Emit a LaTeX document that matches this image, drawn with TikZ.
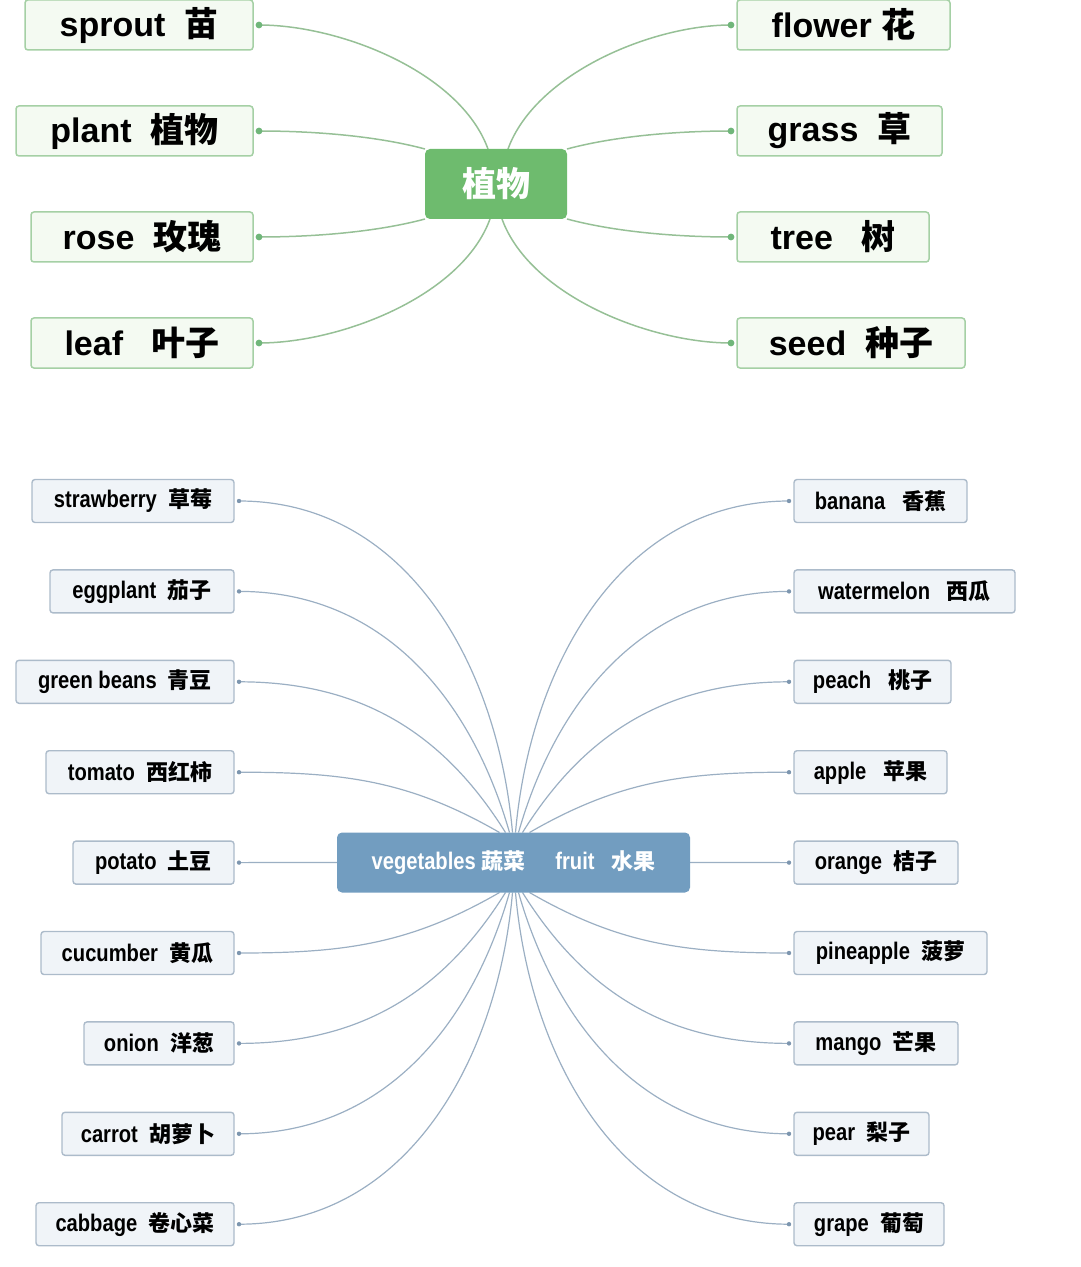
\documentclass[tikz,border=0pt]{standalone}
\usepackage{fontspec}
\usepackage{tikz}
\usetikzlibrary{positioning, calc, backgrounds}
\setmainfont{Liberation Sans}
\newfontfamily\zhfont{Noto Sans CJK SC}
\newfontfamily\narrowfont{Liberation Sans}[FakeStretch=0.84]
\newcommand{\zh}[1]{{\zhfont\bfseries #1}}
\newcommand{\zhs}[1]{{\zhfont\bfseries\fontsize{11}{14}\selectfont #1}}
\definecolor{gh}{RGB}{110,187,110}
\definecolor{gb}{RGB}{165,208,165}
\definecolor{gf}{RGB}{244,250,242}
\definecolor{gl}{RGB}{150,192,150}
\definecolor{gd}{RGB}{112,182,122}
\definecolor{bh}{RGB}{114,157,192}
\definecolor{bb}{RGB}{172,187,202}
\definecolor{bf}{RGB}{240,244,248}
\definecolor{bl}{RGB}{155,175,195}
\definecolor{bd}{RGB}{125,150,175}

\begin{document}
\begin{tikzpicture}[x=0.5pt, y=0.5pt,
		greenbox/.style={draw=gb, fill=gf, line width=0.75pt, rounded corners=1.5pt, minimum height=25pt, inner sep=0pt, outer sep=3pt, font=\fontsize{17}{20}\selectfont\bfseries},
		greenhub/.style={fill=gh, rounded corners=2.5pt, minimum width=71pt, minimum height=35pt, inner sep=0pt, outer sep=0pt, text=white, font=\fontsize{17}{20}\selectfont\bfseries},
		greenline/.style={draw=gl, line width=0.75pt, looseness=0.8},
		greendot/.style={fill=gd},
		bluebox/.style={draw=bb, fill=bf, line width=0.7pt, rounded corners=1.5pt, minimum height=21.5pt, inner sep=0pt, outer sep=2.5pt, font=\narrowfont\fontsize{12}{14}\selectfont\bfseries},
		bluehub/.style={fill=bh, rounded corners=2.5pt, minimum width=176.5pt, minimum height=30pt, inner sep=0pt, outer sep=0pt, text=white, font=\narrowfont\fontsize{12}{14}\selectfont\bfseries},
		blueline/.style={draw=bl, line width=0.6pt},
		bluedot/.style={fill=bd}]
			\useasboundingbox (0,0) rectangle (1080,-1267);
			
			\node[greenhub] (plants) at (496,-184) {\zh{植物}};
			
			\foreach \n/\t/\w/\y in {sprout/{sprout~~\zh{苗}}/228/25, plant/{plant~~\zh{植物}}/237/131, rose/{rose~~\zh{玫瑰}}/222/237, leaf/{leaf~~~\zh{叶子}}/222/343}{
				\node[greenbox, anchor=east, minimum width=\w*0.5pt] (\n) at (259,-\y) {\t};
			};
			\foreach \n/\t/\w/\y in {flower/{flower~\zh{花}}/213/25, grass/{grass~~\zh{草}}/205/131, tree/{tree~~~\zh{树}}/192/237, seed/{seed~~\zh{种子}}/228/343}{
				\node[greenbox, anchor=west, minimum width=\w*0.5pt] (\n) at (731,-\y) {\t};
			};
			
			\begin{scope}[on background layer]
				\foreach \n/\a/\s/\o in {sprout/north/-8/110, plant/north west/0/165, rose/south west/0/195, leaf/south/-6/250}{
					\draw[greenline] ($(plants.\a)+(\s,0)$) to[out=\o, in=0] (\n.east);
					\fill[greendot] (\n.east) circle (1.7pt);
				};
				\foreach \n/\a/\s/\o in {flower/north/12/70, grass/north east/0/15, tree/south east/0/-15, seed/south/6/-70}{
					\draw[greenline] ($(plants.\a)+(\s,0)$) to[out=\o, in=180] (\n.west);
					\fill[greendot] (\n.west) circle (1.7pt);
				};
			\end{scope}
			
			\node[bluehub] (produce) at (513.5,-862.5) {vegetables~\zhs{蔬菜}\hspace{15pt}fruit~~~\zhs{水果}};
			
			\foreach \n/\t/\w/\i in {strawberry/{strawberry~~\zhs{草莓}}/202/0, eggplant/{eggplant~~\zhs{茄子}}/184/1, greenbeans/{green beans~~\zhs{青豆}}/218/2, tomato/{tomato~~\zhs{西红柿}}/188/3, potato/{potato~~\zhs{土豆}}/161/4, cucumber/{cucumber~~\zhs{黄瓜}}/193/5, onion/{onion~~\zhs{洋葱}}/150/6, carrot/{carrot~~\zhs{胡萝卜}}/172/7, cabbage/{cabbage~~\zhs{卷心菜}}/198/8}{
				\node[bluebox, anchor=east, minimum width=\w*0.5pt] (\n) at (239,-501-90.4*\i) {\t};
			};
			\foreach \n/\t/\w/\i in {banana/{banana~~~\zhs{香蕉}}/173/0, watermelon/{watermelon~~~\zhs{西瓜}}/221/1, peach/{peach~~~\zhs{桃子}}/157/2, apple/{apple~~~\zhs{苹果}}/153/3, orange/{orange~~\zhs{桔子}}/164/4, pineapple/{pineapple~~\zhs{菠萝}}/193/5, mango/{mango~~\zhs{芒果}}/164/6, pear/{pear~~\zhs{梨子}}/135/7, grape/{grape~~\zhs{葡萄}}/150/8}{
				\node[bluebox, anchor=west, minimum width=\w*0.5pt] (\n) at (789,-501-90.4*\i) {\t};
			};
			
			\begin{scope}[on background layer]
				\foreach \n/\s/\o in {strawberry/-1/95, eggplant/-4/106, greenbeans/-8/122, tomato/-14/150}{
					\draw[blueline] ($(produce.north)+(\s,0)$) to[out=\o, in=0] (\n.east);
				};
				\foreach \n/\s/\o in {cucumber/-14/210, onion/-8/238, carrot/-4/254, cabbage/-1/265}{
					\draw[blueline] ($(produce.south)+(\s,0)$) to[out=\o, in=0] (\n.east);
				};
				\foreach \n/\s/\o in {banana/2/85, watermelon/5/74, peach/9/58, apple/16/30}{
					\draw[blueline] ($(produce.north)+(\s,0)$) to[out=\o, in=180] (\n.west);
				};
				\foreach \n/\s/\o in {pineapple/16/-30, mango/9/-58, pear/5/-74, grape/2/-85}{
					\draw[blueline] ($(produce.south)+(\s,0)$) to[out=\o, in=180] (\n.west);
				};
				\draw[blueline] (produce.west) -- (potato.east);
				\draw[blueline] (produce.east) -- (orange.west);
			\end{scope}
			
			\foreach \n in {strawberry, eggplant, greenbeans, tomato, potato, cucumber, onion, carrot, cabbage}{
				\fill[bluedot] (\n.east) circle (1.1pt);
			};
			\foreach \n in {banana, watermelon, peach, apple, orange, pineapple, mango, pear, grape}{
				\fill[bluedot] (\n.west) circle (1.1pt);
			};
			
		\end{tikzpicture}
\end{document}
